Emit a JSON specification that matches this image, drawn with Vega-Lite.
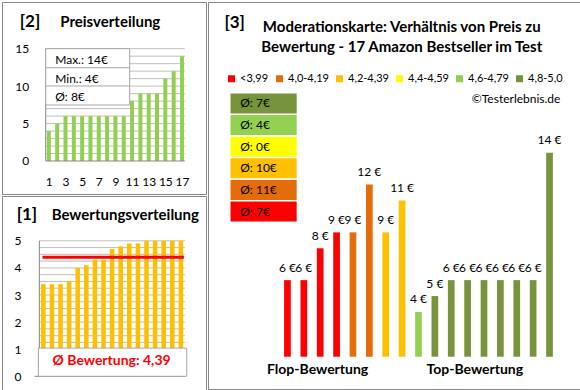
{
  "$schema": "https://vega.github.io/schema/vega-lite/v6.json",
  "background": "#FFFFFF",
  "padding": {"left": 1, "top": 1, "right": 2, "bottom": 2},
  "spacing": 0,
  "config": {
    "font": "Lato",
    "view": {"stroke": "#868686", "strokeWidth": 1},
    "axis": {"labelFont": "Lato", "labelFontSize": 12, "labelColor": "#000000", "labelOverlap": false, "labelFlush": false, "labelBound": false, "labelSeparation": 0},
    "text": {"font": "Lato", "fontSize": 12, "color": "#000000"}
  },
  "datasets": {
    "produkte": [
      {"rang": 1, "bewertung": 3.4, "preis": 6, "kategorie": "<3,99"},
      {"rang": 2, "bewertung": 3.4, "preis": 6, "kategorie": "<3,99"},
      {"rang": 3, "bewertung": 3.4, "preis": 8, "kategorie": "<3,99"},
      {"rang": 4, "bewertung": 3.5, "preis": 9, "kategorie": "<3,99"},
      {"rang": 5, "bewertung": 4.0, "preis": 9, "kategorie": "4,0-4,19"},
      {"rang": 6, "bewertung": 4.1, "preis": 12, "kategorie": "4,0-4,19"},
      {"rang": 7, "bewertung": 4.3, "preis": 9, "kategorie": "4,2-4,39"},
      {"rang": 8, "bewertung": 4.3, "preis": 11, "kategorie": "4,2-4,39"},
      {"rang": 9, "bewertung": 4.7, "preis": 4, "kategorie": "4,6-4,79"},
      {"rang": 10, "bewertung": 4.8, "preis": 5, "kategorie": "4,8-5,0"},
      {"rang": 11, "bewertung": 4.9, "preis": 6, "kategorie": "4,8-5,0"},
      {"rang": 12, "bewertung": 4.9, "preis": 6, "kategorie": "4,8-5,0"},
      {"rang": 13, "bewertung": 5.0, "preis": 6, "kategorie": "4,8-5,0"},
      {"rang": 14, "bewertung": 5.0, "preis": 6, "kategorie": "4,8-5,0"},
      {"rang": 15, "bewertung": 5.0, "preis": 6, "kategorie": "4,8-5,0"},
      {"rang": 16, "bewertung": 5.0, "preis": 6, "kategorie": "4,8-5,0"},
      {"rang": 17, "bewertung": 5.0, "preis": 14, "kategorie": "4,8-5,0"}
    ],
    "gitter_preis": [
      {"wert": 1}, {"wert": 2}, {"wert": 3}, {"wert": 4}, {"wert": 5},
      {"wert": 6}, {"wert": 7}, {"wert": 8}, {"wert": 9}, {"wert": 10},
      {"wert": 11}, {"wert": 12}, {"wert": 13}, {"wert": 14}, {"wert": 15}
    ],
    "gitter_bewertung": [
      {"wert": 1}, {"wert": 1.25}, {"wert": 1.5}, {"wert": 1.75},
      {"wert": 2}, {"wert": 2.25}, {"wert": 2.5}, {"wert": 2.75},
      {"wert": 3}, {"wert": 3.25}, {"wert": 3.5}, {"wert": 3.75},
      {"wert": 4}, {"wert": 4.25}, {"wert": 4.5}, {"wert": 4.75}, {"wert": 5}
    ],
    "boxen": [
      {"kategorie": "4,8-5,0", "schnitt": 7},
      {"kategorie": "4,6-4,79", "schnitt": 4},
      {"kategorie": "4,4-4,59", "schnitt": 0},
      {"kategorie": "4,2-4,39", "schnitt": 10},
      {"kategorie": "4,0-4,19", "schnitt": 11},
      {"kategorie": "<3,99", "schnitt": 7}
    ]
  },
  "resolve": {"scale": {"color": "independent"}, "legend": {"color": "independent"}},
  "hconcat": [
    {
      "spacing": 0,
      "vconcat": [
        {
          "width": 204,
          "height": 192,
          "layer": [
            {
              "data": {"name": "gitter_preis"},
              "mark": {"type": "rule", "color": "#BFBFBF", "strokeWidth": 1},
              "encoding": {
                "x": {"datum": 0.623, "type": "quantitative", "scale": {"domain": [-4.029, 19.286], "nice": false, "zero": false}},
                "x2": {"datum": 17.34},
                "y": {"field": "wert", "type": "quantitative", "scale": {"domain": [-4.408, 21.237], "nice": false, "zero": false}}
              }
            },
            {
              "data": {"name": "produkte"},
              "transform": [{"window": [{"op": "row_number", "as": "preisrang"}], "sort": [{"field": "preis", "order": "ascending"}]}],
              "mark": {"type": "bar", "color": "#92D050", "size": 4},
              "encoding": {
                "x": {"field": "preisrang", "type": "quantitative", "axis": {"values": [1, 3, 5, 7, 9, 11, 13, 15, 17], "format": "d", "tickCount": 40, "offset": -33, "domain": false, "ticks": false, "grid": false, "labelPadding": 15, "labelFlush": false, "labelOverlap": false, "labelBound": false, "title": null}},
                "y": {"field": "preis", "type": "quantitative", "axis": {"values": [0, 5, 10, 15], "format": "d", "tickCount": 40, "offset": -40.7, "domain": false, "ticks": false, "grid": false, "labelPadding": 14, "labelOverlap": false, "labelBound": false, "title": null}},
                "y2": {"datum": 0}
              }
            },
            {
              "data": {"values": [{}]},
              "mark": {"type": "rule", "color": "#868686"},
              "encoding": {
                "x": {"datum": 0.623, "type": "quantitative"},
                "x2": {"datum": 17.34},
                "y": {"datum": 0, "type": "quantitative"}
              }
            },
            {
              "data": {"values": [{}]},
              "mark": {"type": "rule", "color": "#868686"},
              "encoding": {
                "x": {"datum": 0.623, "type": "quantitative"},
                "y": {"datum": 0, "type": "quantitative"},
                "y2": {"datum": 15}
              }
            },
            {
              "data": {"values": [{}]},
              "mark": {"type": "rect", "fill": "#FFFFFF", "stroke": "#A6A6A6", "strokeWidth": 1},
              "encoding": {
                "x": {"datum": 0.623, "type": "quantitative"},
                "x2": {"datum": 10.714},
                "y": {"datum": 7.48, "type": "quantitative"},
                "y2": {"datum": 15}
              }
            },
            {
              "data": {"values": [{}]},
              "mark": {"type": "rule", "color": "#A6A6A6"},
              "encoding": {
                "x": {"datum": 0.623, "type": "quantitative"},
                "x2": {"datum": 10.714},
                "y": {"datum": 12.46, "type": "quantitative"}
              }
            },
            {
              "data": {"values": [{}]},
              "mark": {"type": "rule", "color": "#A6A6A6"},
              "encoding": {
                "x": {"datum": 0.623, "type": "quantitative"},
                "x2": {"datum": 10.714},
                "y": {"datum": 10.02, "type": "quantitative"}
              }
            },
            {
              "data": {"values": [{}]},
              "mark": {"type": "text", "text": "Max.: 14€", "align": "left", "baseline": "middle", "fontSize": 12},
              "encoding": {
                "x": {"datum": 1.766, "type": "quantitative"},
                "y": {"datum": 13.45, "type": "quantitative"}
              }
            },
            {
              "data": {"values": [{}]},
              "mark": {"type": "text", "text": "Min.: 4€", "align": "left", "baseline": "middle", "fontSize": 12},
              "encoding": {
                "x": {"datum": 1.766, "type": "quantitative"},
                "y": {"datum": 10.99, "type": "quantitative"}
              }
            },
            {
              "data": {"values": [{}]},
              "mark": {"type": "text", "text": "Ø: 8€", "align": "left", "baseline": "middle", "fontSize": 12},
              "encoding": {
                "x": {"datum": 1.766, "type": "quantitative"},
                "y": {"datum": 8.59, "type": "quantitative"}
              }
            },
            {
              "data": {"values": [{}]},
              "mark": {"type": "text", "text": "[2]", "align": "left", "baseline": "middle", "fontSize": 17, "fontWeight": "bold"},
              "encoding": {
                "x": {"datum": -2.5, "type": "quantitative"},
                "y": {"datum": 18.57, "type": "quantitative"}
              }
            },
            {
              "data": {"values": [{}]},
              "mark": {"type": "text", "text": "Preisverteilung", "align": "left", "baseline": "middle", "fontSize": 15, "fontWeight": "bold"},
              "encoding": {
                "x": {"datum": 2.371, "type": "quantitative"},
                "y": {"datum": 18.57, "type": "quantitative"}
              }
            }
          ]
        },
        {
          "width": 204,
          "height": 195,
          "layer": [
            {
              "data": {"name": "gitter_bewertung"},
              "mark": {"type": "rule", "color": "#BFBFBF", "strokeWidth": 1},
              "encoding": {
                "x": {"datum": 0.535, "type": "quantitative", "scale": {"domain": [-3.226, 19.34], "nice": false, "zero": false}, "axis": null},
                "x2": {"datum": 17.46},
                "y": {"field": "wert", "type": "quantitative", "scale": {"domain": [-0.542, 6.653], "nice": false, "zero": false}, "axis": {"values": [0, 1, 2, 3, 4, 5], "format": "d", "tickCount": 40, "offset": -34, "domain": false, "ticks": false, "grid": false, "labelPadding": 15, "labelOverlap": false, "labelBound": false, "labelFlush": false, "title": null}}
              }
            },
            {
              "data": {"name": "produkte"},
              "mark": {"type": "bar", "color": "#FFC000", "size": 4.6},
              "encoding": {
                "x": {"field": "rang", "type": "quantitative", "axis": null},
                "y": {"field": "bewertung", "type": "quantitative"},
                "y2": {"datum": 0}
              }
            },
            {
              "data": {"values": [{}]},
              "mark": {"type": "rule", "color": "#868686"},
              "encoding": {
                "x": {"datum": 0.535, "type": "quantitative", "axis": null},
                "y": {"datum": 0, "type": "quantitative"},
                "y2": {"datum": 5}
              }
            },
            {
              "data": {"name": "produkte"},
              "mark": {"type": "rule", "color": "#FF0000", "strokeWidth": 3},
              "encoding": {
                "x": {"datum": 0.9, "type": "quantitative", "axis": null},
                "x2": {"datum": 17.35},
                "y": {"aggregate": "mean", "field": "bewertung", "type": "quantitative"}
              }
            },
            {
              "data": {"values": [{}]},
              "mark": {"type": "rule", "color": "#868686"},
              "encoding": {
                "x": {"datum": -0.02, "type": "quantitative", "axis": null},
                "x2": {"datum": 17.46},
                "y": {"datum": 0, "type": "quantitative"}
              }
            },
            {
              "data": {"values": [{}]},
              "mark": {"type": "rect", "fill": "#FFFFFF", "stroke": "#A6A6A6", "strokeWidth": 1},
              "encoding": {
                "x": {"datum": 0.425, "type": "quantitative", "axis": null},
                "x2": {"datum": 17.68},
                "y": {"datum": 0, "type": "quantitative"},
                "y2": {"datum": 1.04}
              }
            },
            {
              "data": {"values": [{}]},
              "mark": {"type": "text", "text": "Ø Bewertung: 4,39", "align": "center", "baseline": "middle", "fontSize": 14, "fontWeight": "bold", "color": "#FF0000"},
              "encoding": {
                "x": {"datum": 8.94, "type": "quantitative", "axis": null},
                "y": {"datum": 0.565, "type": "quantitative"}
              }
            },
            {
              "data": {"values": [{}]},
              "mark": {"type": "text", "text": "[1]", "align": "left", "baseline": "middle", "fontSize": 17, "fontWeight": "bold"},
              "encoding": {
                "x": {"datum": -2.1, "type": "quantitative", "axis": null},
                "y": {"datum": 5.952, "type": "quantitative"}
              }
            },
            {
              "data": {"values": [{}]},
              "mark": {"type": "text", "text": "Bewertungsverteilung", "align": "left", "baseline": "middle", "fontSize": 15, "fontWeight": "bold"},
              "encoding": {
                "x": {"datum": 1.973, "type": "quantitative", "axis": null},
                "y": {"datum": 5.952, "type": "quantitative"}
              }
            }
          ]
        }
      ]
    },
    {
      "width": 373,
      "height": 387,
      "resolve": {"scale": {"y": "independent"}},
      "layer": [
        {
          "layer": [
            {
              "data": {"name": "produkte"},
              "mark": {"type": "bar", "size": 6.7},
              "encoding": {
                "x": {"field": "rang", "type": "quantitative", "scale": {"domain": [-3.545, 18.617], "nice": false, "zero": false}, "axis": null},
                "y": {"field": "preis", "type": "quantitative", "scale": {"domain": [-0.834, 23.46], "nice": false, "zero": false}, "axis": null},
                "y2": {"datum": 1.194},
                "color": {
                  "field": "kategorie",
                  "type": "nominal",
                  "scale": {
                    "domain": ["<3,99", "4,0-4,19", "4,2-4,39", "4,4-4,59", "4,6-4,79", "4,8-5,0"],
                    "range": ["#FF0000", "#E46C0A", "#FFC000", "#FFFF00", "#92D050", "#77933C"]
                  },
                  "legend": {
                    "orient": "none",
                    "legendX": 18,
                    "legendY": 71,
                    "direction": "horizontal",
                    "title": null,
                    "padding": 0,
                    "symbolType": "square",
                    "symbolSize": 49,
                    "symbolStrokeWidth": 0,
                    "labelFont": "Lato",
                    "labelFontSize": 11,
                    "labelColor": "#000000",
                    "labelOffset": 3,
                    "columnPadding": 5,
                    "labelLimit": 0
                  }
                }
              }
            },
            {
              "data": {"name": "produkte"},
              "mark": {"type": "text", "baseline": "alphabetic", "dy": -8.5, "fontSize": 12, "text": {"expr": "datum.preis + ' €'"}},
              "encoding": {
                "x": {"field": "rang", "type": "quantitative", "axis": null},
                "y": {"field": "preis", "type": "quantitative", "axis": null}
              }
            },
            {
              "data": {"values": [{}]},
              "mark": {"type": "text", "text": "[3]", "align": "left", "baseline": "middle", "fontSize": 17, "fontWeight": "bold"},
              "encoding": {
                "x": {"datum": -2.85, "type": "quantitative", "axis": null},
                "y": {"datum": 22.14, "type": "quantitative", "axis": null}
              }
            },
            {
              "data": {"values": [{}]},
              "mark": {"type": "text", "text": "Moderationskarte: Verhältnis von Preis zu", "align": "center", "baseline": "middle", "fontSize": 15, "fontWeight": "bold"},
              "encoding": {
                "x": {"datum": 7.98, "type": "quantitative", "axis": null},
                "y": {"datum": 21.89, "type": "quantitative", "axis": null}
              }
            },
            {
              "data": {"values": [{}]},
              "mark": {"type": "text", "text": "Bewertung - 17 Amazon Bestseller im Test", "align": "center", "baseline": "middle", "fontSize": 15, "fontWeight": "bold"},
              "encoding": {
                "x": {"datum": 7.98, "type": "quantitative", "axis": null},
                "y": {"datum": 20.635, "type": "quantitative", "axis": null}
              }
            },
            {
              "data": {"values": [{}]},
              "mark": {"type": "text", "text": "©Testerlebnis.de", "align": "right", "baseline": "middle", "fontSize": 12},
              "encoding": {
                "x": {"datum": 17.667, "type": "quantitative", "axis": null},
                "y": {"datum": 17.37, "type": "quantitative", "axis": null}
              }
            },
            {
              "data": {"values": [{}]},
              "mark": {"type": "text", "text": "Flop-Bewertung", "align": "center", "baseline": "middle", "fontSize": 14, "fontWeight": "bold"},
              "encoding": {
                "x": {"datum": 2.842, "type": "quantitative", "axis": null},
                "y": {"datum": 0.359, "type": "quantitative", "axis": null}
              }
            },
            {
              "data": {"values": [{}]},
              "mark": {"type": "text", "text": "Top-Bewertung", "align": "center", "baseline": "middle", "fontSize": 14, "fontWeight": "bold"},
              "encoding": {
                "x": {"datum": 12.438, "type": "quantitative", "axis": null},
                "y": {"datum": 0.359, "type": "quantitative", "axis": null}
              }
            }
          ]
        },
        {
          "data": {"name": "boxen"},
          "transform": [{"window": [{"op": "row_number", "as": "nr"}]}],
          "layer": [
            {
              "mark": {"type": "bar", "size": 20, "orient": "horizontal"},
              "encoding": {
                "x": {"datum": -2.476, "type": "quantitative", "axis": null},
                "x2": {"datum": 1.564},
                "y": {"field": "nr", "type": "quantitative", "scale": {"domain": [-3.459, 13.973], "reverse": true, "nice": false, "zero": false}, "axis": null},
                "color": {"field": "kategorie", "type": "nominal"}
              }
            },
            {
              "mark": {"type": "text", "align": "left", "baseline": "middle", "fontSize": 12, "text": {"expr": "'Ø: ' + datum.schnitt + '€'"}},
              "encoding": {
                "x": {"datum": -1.882, "type": "quantitative", "axis": null},
                "y": {"field": "nr", "type": "quantitative", "axis": null}
              }
            }
          ]
        }
      ]
    }
  ]
}
